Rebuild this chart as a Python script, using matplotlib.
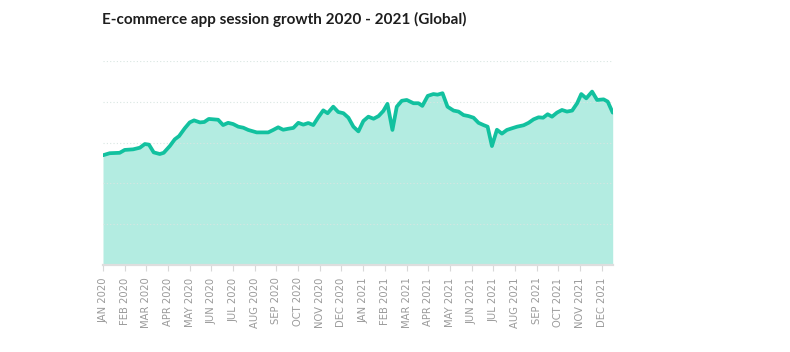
import matplotlib
matplotlib.use('Agg')

import numpy as np
import matplotlib.pyplot as plt

# position along the month axis (0 = JAN 2020) and session index
month_pos = [0.00, 0.31, 0.77, 1.00, 1.39, 1.70, 1.93, 2.12, 2.34, 2.62, 2.80,
             3.08, 3.31, 3.51, 3.77, 4.00, 4.20, 4.47, 4.67, 4.88, 5.31, 5.54,
             5.77, 6.00, 6.24, 6.47, 6.70, 7.09, 7.62, 7.85, 8.08, 8.31, 8.55,
             8.78, 9.01, 9.24, 9.47, 9.70, 9.93, 10.16, 10.36, 10.62, 10.85,
             11.09, 11.32, 11.55, 11.78, 12.01, 12.24, 12.48, 12.71, 12.93,
             13.12, 13.35, 13.55, 13.78, 14.01, 14.32, 14.55, 14.73, 14.98,
             15.24, 15.43, 15.66, 15.89, 16.17, 16.40, 16.63, 16.86, 17.09,
             17.32, 17.55, 17.74, 17.94, 18.17, 18.40, 18.63, 18.86, 19.10,
             19.40, 19.63, 19.86, 20.09, 20.30, 20.51, 20.71, 20.94, 21.17,
             21.40, 21.64, 21.87, 22.06, 22.29, 22.56, 22.79, 23.09, 23.28,
             23.51]
sessions = [53.8, 54.8, 55.0, 56.4, 56.7, 57.5, 59.3, 59.0, 55.2, 54.4, 55.0,
            58.3, 61.6, 63.2, 67.0, 69.9, 70.9, 69.9, 70.1, 71.6, 71.2, 68.6,
            69.7, 69.1, 67.8, 67.3, 66.2, 65.0, 65.0, 66.2, 67.5, 66.3, 66.8,
            67.2, 69.7, 68.8, 69.6, 68.6, 72.4, 75.8, 74.4, 77.6, 75.0,
            74.4, 72.2, 67.8, 65.5, 70.6, 72.7, 71.7, 73.0, 75.5,
            79.0, 66.2, 77.6, 80.5, 80.9, 79.3, 79.3, 78.0, 82.9,
            83.8, 83.5, 84.2, 77.6, 75.7, 75.2, 73.5, 73.0, 72.2,
            69.7, 68.6, 67.8, 58.3, 66.3, 64.4, 66.2, 67.0, 67.8,
            68.5, 69.7, 71.4, 72.4, 72.2, 73.9, 72.7, 74.7, 76.0,
            75.2, 75.7, 79.3, 83.8, 81.7, 85.0, 80.9, 81.2, 80.1,
            74.7]

month_labels = ['JAN 2020', 'FEB 2020', 'MAR 2020', 'APR 2020', 'MAY 2020',
                'JUN 2020', 'JUL 2020', 'AUG 2020', 'SEP 2020', 'OCT 2020',
                'NOV 2020', 'DEC 2020', 'JAN 2021', 'FEB 2021', 'MAR 2021',
                'APR 2021', 'MAY 2021', 'JUN 2021', 'JUL 2021', 'AUG 2021',
                'SEP 2021', 'OCT 2021', 'NOV 2021', 'DEC 2021']

line_color = '#12c19f'
fill_color = '#b3ece1'

fig = plt.figure(figsize=(7.9, 3.52), dpi=100)
ax = fig.add_axes([103 / 790, 1 - 265 / 352, (612.7 - 103) / 790, (265 - 61) / 352])

ax.fill_between(month_pos, sessions, 0, color=fill_color, linewidth=0, zorder=1)
ax.plot(month_pos, sessions, color=line_color, linewidth=2.7,
        solid_joinstyle='round', solid_capstyle='round', zorder=3)

ax.set_xlim(0, month_pos[-1])
ax.set_ylim(0, 100)

# faint dotted grid, drawn over the fill
ax.set_yticks(np.arange(0, 101, 20))
for yv in np.arange(20, 101, 20):
    ax.axhline(yv, linestyle=(0, (1, 2)), color='#d9e6e2', linewidth=0.8, zorder=2)
ax.tick_params(axis='y', left=False, labelleft=False)

ax.set_xticks(range(len(month_labels)))
ax.set_xticklabels(month_labels, rotation=90, fontsize=7.2, color='#9a9a9a',
                   family='DejaVu Sans')
ax.tick_params(axis='x', length=4, width=0.8, color='#d8d8d8', pad=5)

for side in ['top', 'right', 'left']:
    ax.spines[side].set_visible(False)
ax.spines['bottom'].set_color('#dedede')
ax.spines['bottom'].set_linewidth(1.6)
ax.spines['bottom'].set_zorder(4)

fig.text(102 / 790, 1 - 19 / 352, 'E-commerce app session growth 2020 - 2021 (Global)',
         fontsize=11, family='Lato', fontweight='bold', color='#1e1e1e',
         va='center', ha='left')

fig.savefig('out.png', dpi=100)
